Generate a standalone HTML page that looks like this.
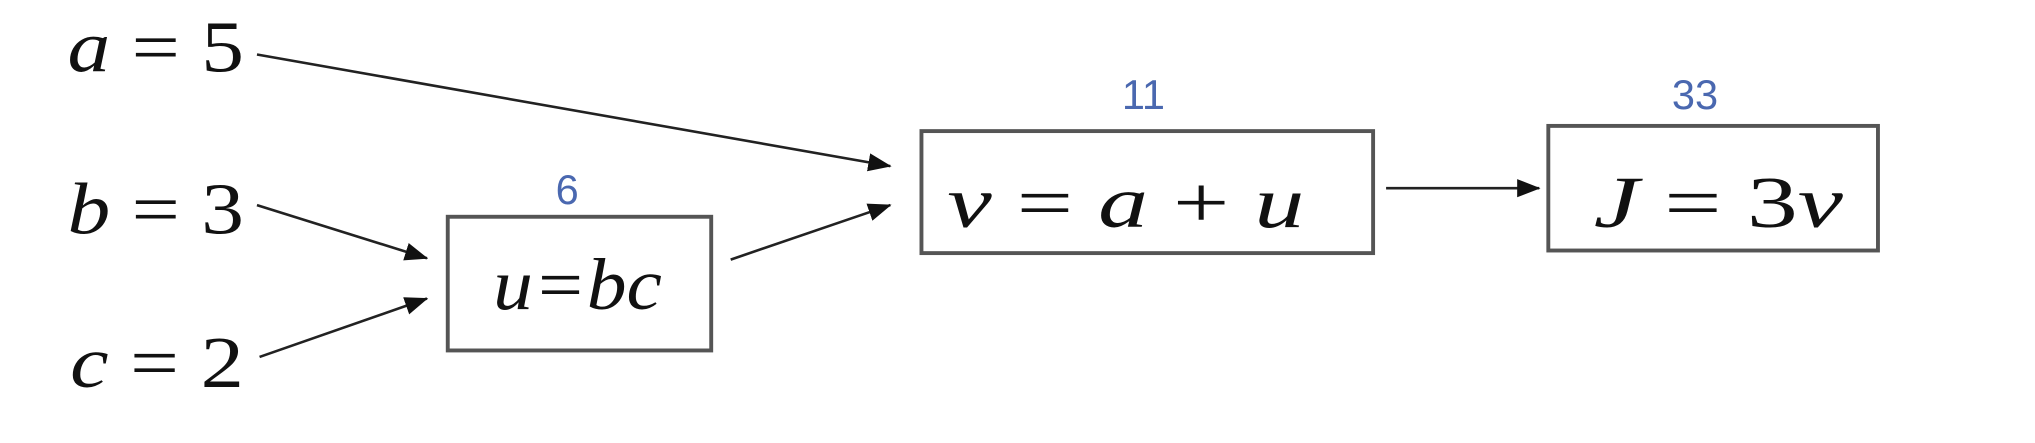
<!DOCTYPE html>
<html><head><meta charset="utf-8"><style>
html,body{margin:0;padding:0;background:#fff;}
svg{display:block;}
.v{font-family:"Liberation Serif",serif;font-size:56px;fill:#111;}
.n{font-family:"Liberation Sans",sans-serif;font-size:32px;fill:#4a68b0;}
</style></head><body>
<svg width="2035" height="443" viewBox="0 0 1568 341.3" preserveAspectRatio="none">
<defs><marker id="ah2" markerWidth="18" markerHeight="18" refX="17" refY="9" orient="auto" markerUnits="userSpaceOnUse" viewBox="0 0 18 18"><path d="M0,2 L18,9 L0,16 z" fill="#111"/></marker></defs>
<g><text class="v" x="52" y="55" textLength="136" lengthAdjust="spacingAndGlyphs"><tspan font-style="italic">a</tspan> = 5</text></g>
<g><text class="v" x="52" y="180" textLength="136" lengthAdjust="spacingAndGlyphs"><tspan font-style="italic">b</tspan> = 3</text></g>
<g><text class="v" x="54" y="298" textLength="134" lengthAdjust="spacingAndGlyphs"><tspan font-style="italic">c</tspan> = 2</text></g>
<line x1="198" y1="42" x2="686" y2="128" stroke="#222" stroke-width="2" marker-end="url(#ah2)"/>
<line x1="198" y1="158" x2="329" y2="199" stroke="#222" stroke-width="2" marker-end="url(#ah2)"/>
<line x1="200" y1="275" x2="329" y2="230" stroke="#222" stroke-width="2" marker-end="url(#ah2)"/>
<line x1="563" y1="200" x2="686" y2="158" stroke="#222" stroke-width="2" marker-end="url(#ah2)"/>
<line x1="1068" y1="145" x2="1186" y2="145" stroke="#222" stroke-width="2" marker-end="url(#ah2)"/>
<g>
<rect x="345" y="167" width="203" height="103" fill="#fff" stroke="#555" stroke-width="3"/>
<text class="v" x="380" y="238" font-style="italic" textLength="130" lengthAdjust="spacingAndGlyphs">u=bc</text>
<text class="n" x="437" y="157" text-anchor="middle">6</text></g>
<g>
<rect x="710" y="101" width="348" height="94" fill="#fff" stroke="#555" stroke-width="3"/>
<text class="v" x="730" y="175" textLength="275" lengthAdjust="spacingAndGlyphs"><tspan font-style="italic">v</tspan> = <tspan font-style="italic">a</tspan> + <tspan font-style="italic">u</tspan></text>
<text class="n" x="881" y="84" text-anchor="middle">11</text></g>
<g>
<rect x="1193" y="97" width="254" height="96" fill="#fff" stroke="#555" stroke-width="3"/>
<text class="v" x="1228" y="175" textLength="192" lengthAdjust="spacingAndGlyphs"><tspan font-style="italic">J</tspan> = 3<tspan font-style="italic">v</tspan></text>
<text class="n" x="1306" y="84" text-anchor="middle">33</text></g>
</svg>
</body></html>
